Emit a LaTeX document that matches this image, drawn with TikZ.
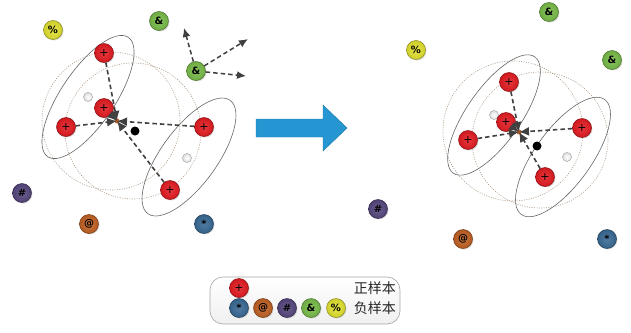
\documentclass[tikz,border=0pt]{standalone}
\usepackage{fontspec}
\newfontfamily\cjk{Noto Sans CJK SC}
\newfontfamily\markfont{DejaVu Sans}
\usetikzlibrary{arrows.meta,shadows,shapes.geometric}

\definecolor{posred}{RGB}{230,28,34}
\definecolor{negblue}{RGB}{58,106,150}
\definecolor{negbrown}{RGB}{196,98,36}
\definecolor{negpurple}{RGB}{88,72,128}
\definecolor{neggreen}{RGB}{122,190,74}
\definecolor{negyellow}{RGB}{228,228,50}
\definecolor{arrowblue}{RGB}{38,150,210}
\definecolor{dashgray}{RGB}{64,64,64}

\tikzset{
  ball/.style={circle, minimum size=19pt, inner sep=0pt,
    draw=#1!60!black, line width=0.5pt,
    shading=radial, inner color=#1!88!white, outer color=#1!90!black,
    drop shadow={shadow xshift=1pt, shadow yshift=-1pt, opacity=0.25},
    font=\markfont\bfseries\fontsize{10}{10}\selectfont},
  posball/.style={ball=posred, font=\markfont\fontsize{11}{11}\selectfont},
  smallwhite/.style={circle, minimum size=9pt, inner sep=0pt, draw=gray!70,
    line width=0.5pt, shading=radial, inner color=white, outer color=gray!25},
  smallblack/.style={circle, minimum size=9pt, inner sep=0pt, fill=black},
  hub/.style={circle, minimum size=5pt, inner sep=0pt, fill=negbrown},
  pull/.style={dashgray, line width=1.6pt, dash pattern=on 4.5pt off 3pt,
    -{Latex[length=10pt,width=9pt]}},
  push/.style={dashgray, line width=1.5pt, dash pattern=on 4.5pt off 3pt,
    -{Latex[length=9pt,width=8pt]}},
  group/.style={draw=gray!80!black, line width=0.6pt},
  reach/.style={draw=brown!40!gray!80, line width=0.6pt, dash pattern=on 1pt off 1.4pt},
}

\begin{document}
\begin{tikzpicture}[x=1pt,y=-1pt]
\useasboundingbox (0,0) rectangle (631,332);
\fill[white] (0,0) rectangle (631,332);

% ---------- left: before ----------
\draw[reach] (111,121) circle[radius=69pt];
\draw[reach] (133,131) circle[radius=68pt];
\draw[group] (88,97) ellipse[x radius=72pt, y radius=27pt, rotate=56];
\draw[group] (189,157) ellipse[x radius=70pt, y radius=28pt, rotate=54];

\node[smallwhite] (wa) at (88,97) {};
\node[smallwhite] (wb) at (187,158) {};
\node[smallblack] (ka) at (135,131) {};
\node[hub] (ca) at (117,121) {};

\node[posball] (a1) at (104,53) {+};
\node[posball] (a2) at (104,108) {+};
\node[posball] (a3) at (66,127) {+};
\node[posball] (a4) at (204,127) {+};
\node[posball] (a5) at (170,190) {+};

\foreach \n in {a1,a2,a3,a4,a5}
  \draw[pull] (\n) -- (ca.center);

\node[ball=negyellow] (ya) at (53,30) {\%};
\node[ball=neggreen] (ga) at (159,21) {\&};
\node[ball=neggreen] (gb) at (196,71) {\&};
\node[ball=negpurple] (pa) at (22,193) {\#};
\node[ball=negbrown] (ba) at (89,224) {@};
\node[ball=negblue] (ua) at (204,224) {*};

\coordinate (t1) at (184,28);
\coordinate (t2) at (248,39);
\coordinate (t3) at (246,76);
\draw[push] (gb) -- (t1);
\draw[push] (gb) -- (t2);
\draw[push] (gb) -- (t3);

% ---------- middle arrow ----------
\draw[arrowblue!80!black, line width=0.4pt, fill=arrowblue]
  (256,119) -- (323,119) -- (323,105) -- (347,128) -- (323,151)
  -- (323,137) -- (256,137) -- cycle;

% ---------- right: after ----------
\draw[reach] (513,131) circle[radius=70pt];
\draw[reach] (540,140) circle[radius=68pt];
\draw[group] (494,115) ellipse[x radius=71pt, y radius=27pt, rotate=55];
\draw[group] (563,157) ellipse[x radius=71pt, y radius=28pt, rotate=54];

\node[smallwhite] (wc) at (494,115) {};
\node[smallwhite] (wd) at (567,157) {};
\node[smallblack] (kb) at (537,146) {};
\node[hub] (cb) at (519,132) {};

\node[posball] (b1) at (509,82) {+};
\node[posball] (b2) at (506,122) {+};
\node[posball] (b3) at (468,140) {+};
\node[posball] (b4) at (582,128) {+};
\node[posball] (b5) at (545,177) {+};

\foreach \n in {b1,b2,b3,b4,b5}
  \draw[pull] (\n) -- (cb.center);

\node[ball=negyellow] (yb) at (416,50) {\%};
\node[ball=neggreen] (gc) at (549,12) {\&};
\node[ball=neggreen] (gd) at (612,60) {\&};
\node[ball=negpurple] (pb) at (378,209) {\#};
\node[ball=negbrown] (bb) at (463,239) {@};
\node[ball=negblue] (ub) at (607,239) {*};

% ---------- legend ----------
\node[draw=gray!70, line width=0.6pt, rounded corners=13pt,
  top color=white, bottom color=gray!12,
  minimum width=190pt, minimum height=47pt] (key) at (305,300.5) {};
\node[posball] (kp) at (239,288) {+};
\node[ball=negblue] (k1) at (239,308) {*};
\node[ball=negbrown] (k2) at (263,308) {@};
\node[ball=negpurple] (k3) at (287,308) {\#};
\node[ball=neggreen] (k4) at (311,308) {\&};
\node[ball=negyellow] (k5) at (336,308) {\%};
\node[anchor=east, inner sep=0pt, font=\cjk\fontsize{14}{14}\selectfont, text=black!85]
  (lp) at (396,288) {正样本};
\node[anchor=east, inner sep=0pt, font=\cjk\fontsize{14}{14}\selectfont, text=black!85]
  (ln) at (396,308) {负样本};
\end{tikzpicture}
\end{document}
